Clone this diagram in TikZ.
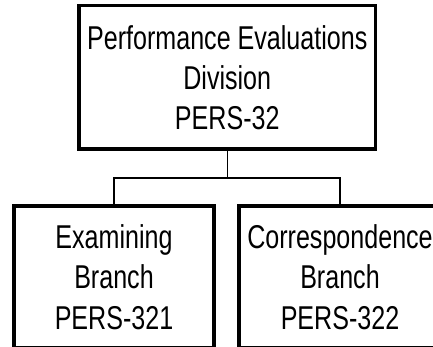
\documentclass[tikz,border=0pt]{standalone}
\usepackage{fontspec}
\setmainfont{Liberation Sans}[FakeStretch=0.76]
\begin{document}
\begin{tikzpicture}[x=1pt,y=-1pt,
  orgbox/.style={draw=black, line width=3.3pt, rectangle, inner sep=0pt, align=center, font=\fontsize{33}{40}\selectfont},
  link/.style={draw=black, line width=1.3pt}]
\useasboundingbox (0,0) rectangle (433,347);
\clip (0,0) rectangle (433,347);
\fill[white] (0,0) rectangle (433,347);
\node[orgbox, minimum width=296.5pt, minimum height=143.5pt] (top) at (227.25,77.25)
  {Performance Evaluations\\Division\\PERS-32};
\node[orgbox, minimum width=200pt, minimum height=141.5pt, font=\fontsize{33}{40.5}\selectfont] (L) at (114,276.75)
  {Examining\\Branch\\PERS-321};
\node[orgbox, minimum width=202pt, minimum height=141.5pt, font=\fontsize{33}{40.5}\selectfont] (R) at (340,276.75)
  {Correspondence\\Branch\\PERS-322};
\coordinate (bus) at (227.25,178);
\draw[link] (top.south) -- (bus);
\draw[link] (L.north) |- (bus) -| (R.north);
\end{tikzpicture}
\end{document}
